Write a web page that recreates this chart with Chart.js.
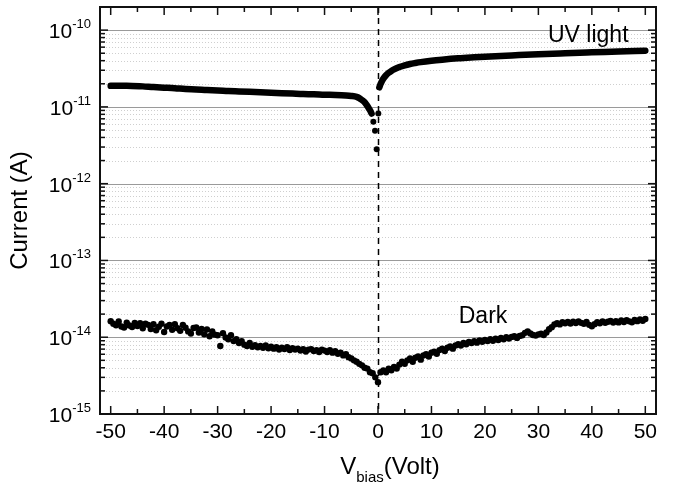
<!DOCTYPE html>
<html>
<head>
<meta charset="utf-8">
<script src="https://cdn.jsdelivr.net/npm/chart.js@4/dist/chart.umd.min.js"></script>
<style>
  body { margin: 0; background: #fff; }
  #wrap { width: 673px; height: 485px; position: relative; }
</style>
</head>
<body>
<div id="wrap"><canvas id="ivCurve"></canvas></div>
<script>
(() => {
  'use strict'

  // dark current (fA), bias swept from -50 V to 50 V in 0.5 V steps
  const darkStart = -50
  const darkStep = 0.5
  const darkCurrent = [
    16.2, 15.0, 14.3, 16.0, 13.8, 13.4, 15.5, 14.2, 13.6, 15.3,
    14.0, 15.2, 13.1, 15.0, 14.5, 12.8, 14.8, 12.3, 13.7, 15.0,
    11.7, 13.8, 14.5, 12.5, 14.8, 13.1, 12.1, 14.4, 13.3, 11.9,
    11.2, 13.2, 13.4, 11.5, 12.8, 10.9, 12.6, 10.3, 11.9, 10.8,
    10.6, 7.7, 11.3, 9.9, 9.4, 10.6, 8.9, 9.4, 8.4, 8.9,
    8.0, 7.7, 8.4, 7.5, 7.9, 7.4, 7.7, 7.3, 7.8, 7.2,
    7.5, 7.1, 7.4, 6.9, 7.3, 7.0, 7.4, 6.8, 7.2, 6.9,
    7.1, 6.7, 7.0, 6.5, 6.9, 7.0, 6.6, 6.8, 6.4, 6.9,
    6.7, 6.4, 6.8, 6.3, 6.6, 6.1, 6.3, 5.8, 6.0, 5.5,
    5.3, 5.0, 4.8, 4.5, 4.3, 4.0, 3.9, 3.5, 3.4, 3.0,
    2.6,
    3.5, 3.7, 3.5, 3.9, 3.7, 4.1, 3.9, 4.4, 4.8, 4.5,
    5.0, 5.3, 4.8, 5.4, 5.6, 5.1, 5.8, 6.0, 5.6, 6.3,
    6.5, 6.1, 6.8, 7.1, 6.6, 7.3, 7.6, 7.1, 7.8, 8.1,
    7.8, 8.4, 8.1, 8.7, 8.4, 8.9, 8.5, 9.1, 8.7, 9.2,
    8.9, 9.4, 9.0, 9.6, 9.2, 9.8, 9.4, 10.0, 9.6, 10.1,
    10.3, 9.8, 10.4, 10.6, 11.4, 11.9, 11.2, 10.7, 10.5, 10.9,
    11.1, 10.7, 11.5, 12.7, 13.5, 14.7, 15.2, 14.7, 15.7, 15.2,
    15.8, 15.1, 15.9, 15.3, 16.0, 15.4, 15.0, 15.8, 14.5, 13.9,
    14.8, 15.7, 15.2, 16.1, 15.4, 15.9, 16.3, 15.5, 16.2, 15.6,
    16.5, 15.8, 16.7, 16.1, 15.7, 16.8, 16.2, 17.0, 16.4, 17.3
  ]

  // current under UV light (pA)
  const uvNegVolt = [-50, -47, -44, -42, -40, -38, -36, -34, -32, -30, -28, -26, -24, -22, -20,
    -18, -16, -14, -12, -10, -8, -6, -5, -4, -3.5, -3, -2.5, -2, -1.7, -1.4, -1.2]
  const uvNegCurrent = [18.8, 18.9, 18.5, 18.1, 17.8, 17.5, 17.1, 16.9, 16.6, 16.4, 16.1, 15.9, 15.7, 15.5, 15.3,
    15.1, 14.9, 14.7, 14.6, 14.4, 14.3, 14.1, 13.9, 13.5, 13.0, 12.3, 11.5, 10.3, 9.5, 8.8, 8.2]
  const uvJumpVolt = [-0.87, -0.56, -0.25, 0.06]
  const uvJumpCurrent = [6.4, 4.9, 2.8, 8.2]
  const uvPosVolt = [0.25, 0.5, 0.75, 1, 1.5, 2, 2.5, 3, 4, 5, 6, 7, 8, 10, 12, 15, 18, 20, 25, 30, 35, 40, 45, 50]
  const uvPosCurrent = [18.0, 20.0, 21.8, 23.3, 25.8, 27.8, 29.4, 30.8, 33.0, 34.8, 36.2, 37.3, 38.3, 39.9,
    41.2, 42.9, 44.2, 45.0, 46.8, 48.6, 50.0, 51.3, 52.6, 54.0]

  const xTicks = [-50, -40, -30, -20, -10, 0, 10, 20, 30, 40, 50]
  const xMinorTicks = [-45, -35, -25, -15, -5, 5, 15, 25, 35, 45]
  const decades = [-15, -14, -13, -12, -11, -10]

  const FONT = '"Liberation Sans", Arial, Helvetica, sans-serif'

  const darkPoints = darkCurrent.map((v, i) => ({ x: darkStart + i * darkStep, y: v * 1e-15 }))
  const pairs = (xs, ys) => xs.map((x, i) => ({ x: x, y: ys[i] * 1e-12 }))

  const minorValues = []
  decades.forEach(d => {
    for (let m = 2; m <= 9; m++) minorValues.push(m * Math.pow(10, d))
  })

  const frame = {
    id: 'frame',
    beforeDatasetsDraw(chart) {
      const { ctx, chartArea: a, scales: { x, y } } = chart
      ctx.save()
      ctx.lineWidth = 1
      // minor grid, dotted
      ctx.strokeStyle = '#cfcfcf'
      ctx.setLineDash([1, 2])
      minorValues.forEach(v => {
        const py = Math.round(y.getPixelForValue(v)) + 0.5
        if (py <= a.top + 1) return
        ctx.beginPath(); ctx.moveTo(a.left, py); ctx.lineTo(a.right, py); ctx.stroke()
      })
      // decade grid, solid
      ctx.setLineDash([])
      ctx.strokeStyle = '#9a9a9a'
      decades.forEach(d => {
        const py = Math.round(y.getPixelForValue(Math.pow(10, d))) + 0.5
        ctx.beginPath(); ctx.moveTo(a.left, py); ctx.lineTo(a.right, py); ctx.stroke()
      })
      // zero bias marker
      const px0 = Math.round(x.getPixelForValue(0)) + 0.5
      ctx.strokeStyle = '#000'
      ctx.lineWidth = 1.5
      ctx.setLineDash([6, 5])
      ctx.beginPath(); ctx.moveTo(px0, a.top); ctx.lineTo(px0, a.bottom); ctx.stroke()
      ctx.restore()
    },
    afterDatasetsDraw(chart) {
      const { ctx, chartArea: a, scales: { x, y } } = chart
      ctx.save()
      ctx.strokeStyle = '#111'
      ctx.lineWidth = 2
      ctx.strokeRect(a.left, a.top, a.right - a.left, a.bottom - a.top)

      // inward ticks on all four sides
      ctx.lineWidth = 1.5
      const xTick = (v, len) => {
        const px = x.getPixelForValue(v)
        ctx.beginPath(); ctx.moveTo(px, a.bottom); ctx.lineTo(px, a.bottom - len); ctx.stroke()
        ctx.beginPath(); ctx.moveTo(px, a.top); ctx.lineTo(px, a.top + len); ctx.stroke()
      }
      xTicks.forEach(v => xTick(v, 8))
      xMinorTicks.forEach(v => xTick(v, 5))
      const yTick = (v, len) => {
        const py = y.getPixelForValue(v)
        if (py <= a.top + 1) return
        ctx.beginPath(); ctx.moveTo(a.left, py); ctx.lineTo(a.left + len, py); ctx.stroke()
        ctx.beginPath(); ctx.moveTo(a.right, py); ctx.lineTo(a.right - len, py); ctx.stroke()
      }
      decades.forEach(d => yTick(Math.pow(10, d), 8))
      minorValues.forEach(v => yTick(v, 5))

      // decade labels with superscript exponent
      ctx.fillStyle = '#000'
      ctx.textAlign = 'right'
      ctx.textBaseline = 'alphabetic'
      decades.forEach(d => {
        const py = y.getPixelForValue(Math.pow(10, d))
        const exp = String(d)
        ctx.font = '13px ' + FONT
        const ew = ctx.measureText(exp).width
        ctx.fillText(exp, a.left - 9, py - 2)
        ctx.font = '21px ' + FONT
        ctx.fillText('10', a.left - 9 - ew, py + 8)
      })

      // axis titles
      ctx.font = '24px ' + FONT
      ctx.textAlign = 'center'
      ctx.save()
      ctx.translate(27, (a.top + a.bottom) / 2)
      ctx.rotate(-Math.PI / 2)
      ctx.fillText('Current (A)', 0, 0)
      ctx.restore()

      ctx.textAlign = 'left'
      const big = '24px ' + FONT
      const small = '15px ' + FONT
      ctx.font = big
      const wV = ctx.measureText('V').width
      const wRest = ctx.measureText('(Volt)').width
      ctx.font = small
      const wSub = ctx.measureText('bias').width
      let tx = (a.left + a.right) / 2 + 12 - (wV + wSub + wRest) / 2
      const ty = 474
      ctx.font = big
      ctx.fillText('V', tx, ty); tx += wV
      ctx.font = small
      ctx.fillText('bias', tx, ty + 8); tx += wSub
      ctx.font = big
      ctx.fillText('(Volt)', tx, ty)

      // curve labels
      ctx.font = '23px ' + FONT
      ctx.fillText('UV light', x.getPixelForValue(31.8), y.getPixelForValue(7e-11))
      ctx.fillText('Dark', x.getPixelForValue(15.1), y.getPixelForValue(1.52e-14))
      ctx.restore()
    }
  }

  const ctx = document.getElementById('ivCurve')

  const lineStyle = {
    type: 'line',
    showLine: true,
    borderColor: '#000',
    backgroundColor: '#000',
    borderWidth: 6.5,
    borderCapStyle: 'round',
    borderJoinStyle: 'round',
    cubicInterpolationMode: 'monotone',
    pointRadius: 0,
    fill: false
  }

  const ivChart = new Chart(ctx, {
    type: 'scatter',
    data: {
      datasets: [
        {
          label: 'Dark',
          data: darkPoints,
          backgroundColor: '#000',
          borderColor: '#000',
          pointRadius: 3.2,
          borderWidth: 0
        },
        Object.assign({ label: 'UV light (-)', data: pairs(uvNegVolt, uvNegCurrent) }, lineStyle),
        Object.assign({ label: 'UV light (+)', data: pairs(uvPosVolt, uvPosCurrent) }, lineStyle),
        {
          label: 'UV light (0)',
          data: pairs(uvJumpVolt, uvJumpCurrent),
          backgroundColor: '#000',
          borderColor: '#000',
          pointRadius: 3,
          borderWidth: 0
        }
      ]
    },
    options: {
      responsive: true,
      maintainAspectRatio: false,
      animation: false,
      layout: { padding: { top: 7, right: 17, left: 0, bottom: 0 } },
      plugins: {
        legend: { display: false },
        tooltip: { enabled: false }
      },
      scales: {
        x: {
          type: 'linear',
          min: -52,
          max: 52,
          afterBuildTicks: scale => { scale.ticks = xTicks.map(v => ({ value: v })) },
          afterFit: scale => { scale.height = 71 },
          grid: { display: false, drawTicks: false },
          border: { display: false },
          ticks: {
            color: '#000',
            padding: 6,
            maxRotation: 0,
            font: { family: FONT, size: 21 }
          }
        },
        y: {
          type: 'logarithmic',
          min: 1e-15,
          max: 2e-10,
          afterFit: scale => { scale.width = 100 },
          grid: { display: false, drawTicks: false },
          border: { display: false },
          ticks: { display: false }
        }
      }
    },
    plugins: [frame]
  })
})()
</script>
</body>
</html>
